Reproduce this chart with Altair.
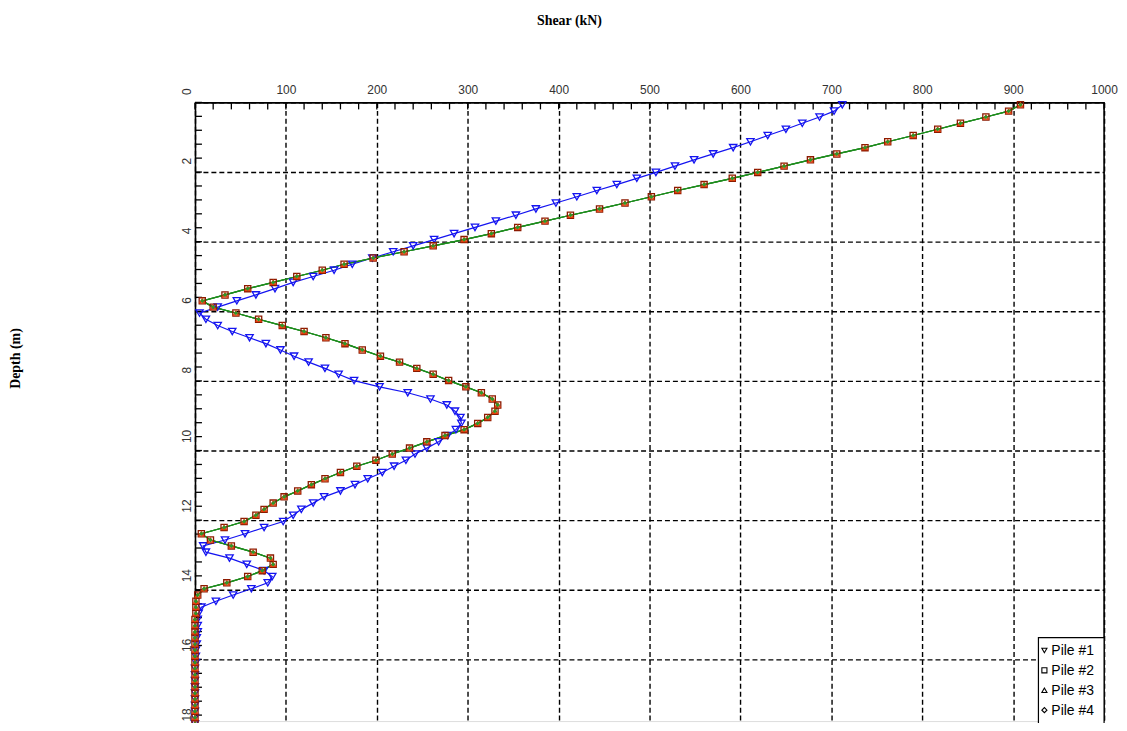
import altair as alt
import pandas as pd

# ---------------- data ----------------
pile_names = ["Pile #1", "Pile #2", "Pile #3", "Pile #4"]
marker_colors = ["#1414f0", "#8b1a00", "#e8400c", "#2a9a2a"]
line_colors = ["#1414f0", "#1e8c1e", "#1e8c1e", "#1e8c1e"]
marker_sizes = [55, 6, 16, 64]
pile_shapes = ["triangle-down", "square", "triangle-up", "diamond"]

depth_m = [
    0.07, 0.25, 0.42, 0.60, 0.77, 0.95, 1.13, 1.30, 1.48, 1.65,
    1.83, 2.01, 2.18, 2.36, 2.53, 2.71, 2.89, 3.06, 3.24, 3.41,
    3.59, 3.77, 3.94, 4.12, 4.29, 4.47, 4.65, 4.82, 5.00, 5.17,
    5.35, 5.53, 5.70, 5.88, 6.05, 6.23, 6.41, 6.58, 6.76, 6.93,
    7.11, 7.29, 7.46, 7.64, 7.81, 7.99, 8.17, 8.34, 8.52, 8.69,
    8.87, 9.05, 9.22, 9.40, 9.57, 9.75, 9.93, 10.10, 10.28, 10.45,
    10.63, 10.81, 10.98, 11.16, 11.33, 11.51, 11.69, 11.86, 12.04, 12.21,
    12.39, 12.57, 12.74, 12.92, 13.09, 13.27, 13.45, 13.62, 13.80, 13.97,
    14.15, 14.33, 14.50, 14.68, 14.85, 15.03, 15.21, 15.38, 15.56, 15.73,
    15.91, 16.09, 16.26, 16.44, 16.61, 16.79, 16.97, 17.14, 17.32, 17.49,
    17.67, 17.85, 18.02, 18.20,
]

pile1_shear = [
    712, 703, 687, 668, 650, 630, 611, 592, 570, 549,
    528, 507, 486, 464, 442, 420, 397, 375, 353, 331,
    308, 285, 263, 240, 218, 195, 173, 153, 130, 108,
    88, 67, 46, 25, 5, 12, 25, 41, 60, 78,
    94, 109, 125, 143, 158, 175, 203, 234, 259, 277,
    286, 292, 293, 287, 278, 268, 255, 242, 232, 219,
    206, 190, 176, 160, 142, 130, 117, 108, 97, 76,
    55, 33, 9, 12, 38, 57, 76, 85, 80, 62,
    42, 23, 7, 4, 3, 3, 3, 2, 2, 1,
    1, 1, 0, 0, 0, 0, 0, 0, 0, 0,
    0, 0, 0, 0,
]

# Piles #2, #3 and #4 plot on top of each other in the reference
pile2_shear = [
    908, 895, 870, 842, 817, 790, 762, 737, 706, 677,
    648, 619, 591, 560, 531, 502, 473, 445, 413, 385,
    355, 326, 296, 262, 230, 196, 164, 140, 112, 86,
    58, 33, 8, 20, 45, 70, 96, 120, 144, 165,
    184, 204, 225, 244, 262, 279, 298, 315, 327, 333,
    330, 322, 311, 296, 275, 255, 236, 217, 199, 178,
    160, 143, 128, 113, 98, 86, 76, 67, 54, 32,
    7, 17, 40, 64, 83, 86, 74, 58, 35, 10,
    3, 1, 1, 1, 0, 0, 0, 0, 0, 0,
    0, 0, 0, 0, 0, 0, 0, 0, 0, 0,
    0, 0, 0, 0,
]
pile3_shear = list(pile2_shear)
pile4_shear = list(pile2_shear)

x_ticks = list(range(0, 1001, 100))
y_ticks = list(range(0, 19, 2))
x_minor = list(range(0, 1001, 20))
y_minor = [round(0.4 * i, 1) for i in range(46)]

# ---------------- table ----------------
rows = []
for name, vals in zip(pile_names, [pile1_shear, pile2_shear, pile3_shear, pile4_shear]):
    for d, v in zip(depth_m, vals):
        rows.append({"pile": name, "series": name, "line_pile": name, "depth": d, "shear": v})
df = pd.DataFrame(rows)

W, H = 914, 622

xscale = alt.Scale(domain=[0, 1000], nice=False, zero=False)
yscale = alt.Scale(domain=[0, 18], range=[0, 630], nice=False, zero=False)

xaxis = alt.Axis(
    orient="top", values=x_ticks, format="d", grid=True, gridColor="black", gridDash=[5, 3],
    gridWidth=1.4, gridOpacity=1, domain=True, domainColor="black", domainWidth=1.6,
    ticks=False, tickSize=0, labelFont="Liberation Sans", labelFontSize=12,
    labelColor="#333333", labelPadding=6, labelFlush=False, labelOverlap=False,
    labelExpr="datum.value == 0 ? '' : datum.label",
    title="Shear (kN)", titleFont="Liberation Serif", titleFontSize=14,
    titleFontWeight="bold", titleColor="black", titleX=376, titleY=-82,
    titleAlign="center", titleBaseline="middle", titleAngle=0,
)
yaxis = alt.Axis(
    orient="left", values=y_ticks, format="d", grid=True, gridColor="black", gridDash=[5, 3],
    gridWidth=1.4, gridOpacity=1, domain=True, domainColor="black", domainWidth=1.6,
    ticks=False, tickSize=0, labelFont="Liberation Sans", labelFontSize=12,
    labelColor="#333333", labelAngle=270, labelAlign="left", labelBaseline="bottom",
    labelPadding=2, labelOffset=-8, labelFlush=False, labelOverlap=False,
    title="Depth (m)", titleFont="Liberation Serif", titleFontSize=14,
    titleFontWeight="bold", titleColor="black", titleX=-180, titleY=257,
    titleAlign="center", titleBaseline="middle", titleAngle=270,
)

X = alt.X("shear:Q", scale=xscale, axis=xaxis)
Y = alt.Y("depth:Q", scale=yscale, axis=yaxis)

line_stroke = alt.Stroke("line_pile:N", scale=alt.Scale(domain=pile_names, range=line_colors), legend=None)
marker_color = alt.Color("series:N", scale=alt.Scale(domain=pile_names, range=marker_colors), legend=None)
marker_size = alt.Size("series:N", scale=alt.Scale(domain=pile_names, range=marker_sizes), legend=None)
shape = alt.Shape("pile:N", scale=alt.Scale(domain=pile_names, range=pile_shapes), legend=None)

lines = alt.Chart(df).mark_line(strokeWidth=1.2).encode(
    x=X, y=Y, stroke=line_stroke, detail="line_pile:N", order=alt.Order("depth:Q")
)
points = alt.Chart(df).mark_point(filled=False, strokeWidth=1.3, opacity=1).encode(
    x=X, y=Y, color=marker_color, size=marker_size, shape=shape
)

xt = alt.Chart(pd.DataFrame({"shear": x_minor})).mark_rule(color="black", strokeWidth=1.3).encode(
    x=X, y=alt.value(0), y2=alt.value(7)
)
yt = alt.Chart(pd.DataFrame({"depth": y_minor})).mark_rule(color="black", strokeWidth=1.3).encode(
    y=Y, x=alt.value(0), x2=alt.value(7)
)
right_border = alt.Chart(pd.DataFrame({"shear": [1000]})).mark_rule(color="black", strokeWidth=1.6).encode(
    x=X, y=alt.value(0), y2=alt.value(H)
)

# ---------------- legend box (bottom-right, inside the plot) ----------------
LX, LY, ROW = 848, 538, 20
legend_layers = [
    alt.Chart(pd.DataFrame({"k": [0]})).mark_rect(
        fill="white", stroke="black", strokeWidth=1.2
    ).encode(x=alt.value(LX), x2=alt.value(W), y=alt.value(LY), y2=alt.value(H + 20))
]
for i, (name, shp) in enumerate(zip(pile_names, pile_shapes)):
    one = pd.DataFrame({"label": [name]})
    cy = LY + 13 + ROW * i
    legend_layers.append(
        alt.Chart(one).mark_point(shape=shp, size=26, filled=False, color="black",
                                  strokeWidth=1.1, opacity=1).encode(
            x=alt.value(LX + 6), y=alt.value(cy))
    )
    legend_layers.append(
        alt.Chart(one).mark_text(align="left", baseline="middle", font="Liberation Sans",
                                 fontSize=14, color="black").encode(
            x=alt.value(LX + 13), y=alt.value(cy + 1), text="label:N")
    )

chart = alt.layer(xt, yt, lines, points, right_border, *legend_layers).properties(
    width=W, height=H,
    autosize=alt.AutoSizeParams(type="none"),
    padding={"left": 188, "top": 93, "right": 15, "bottom": 0},
).configure_view(stroke=None).configure(background="white")

chart.save("out.html", embed_options={"renderer": "svg", "actions": False})
